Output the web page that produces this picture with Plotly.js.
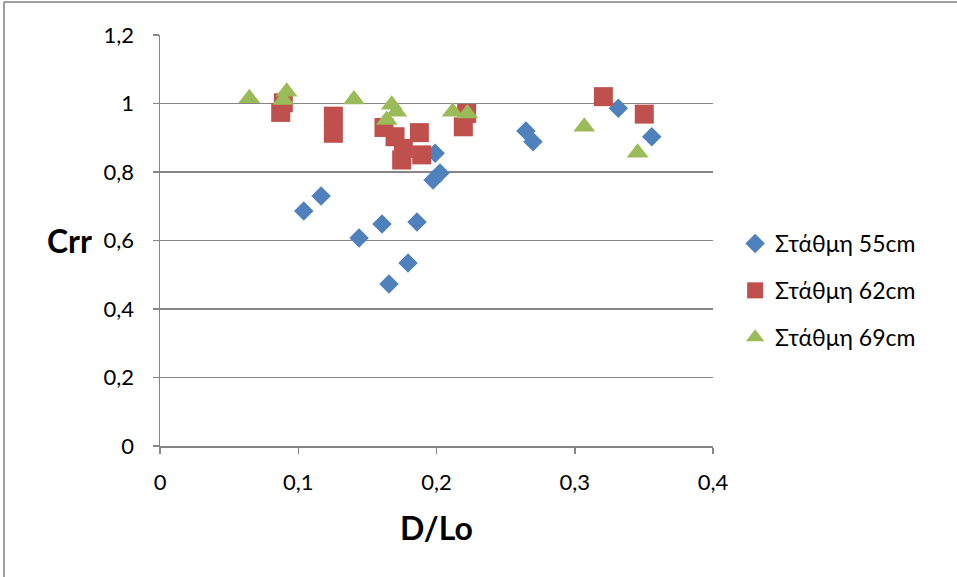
<!DOCTYPE html>
<html>
<head>
<meta charset="utf-8">
<script src="https://cdn.plot.ly/plotly-3.0.1.min.js"></script>
<style>html,body{margin:0;padding:0;background:#fff;}#chart{width:957px;height:577px;}</style>
</head>
<body>
<div id="chart"></div>
<script>
const seriesNames = ['Στάθμη 55cm', 'Στάθμη 62cm', 'Στάθμη 69cm'];

const x55 = [0.104, 0.1165, 0.144, 0.1606, 0.1656, 0.1794, 0.1859, 0.1975, 0.2025, 0.199, 0.2647, 0.2698, 0.3315, 0.3557];
const y55 = [0.686, 0.730, 0.607, 0.648, 0.473, 0.534, 0.654, 0.777, 0.797, 0.855, 0.920, 0.888, 0.986, 0.903];

const x62 = [0.0892, 0.0873, 0.1254, 0.1254, 0.162, 0.170, 0.1876, 0.176, 0.1748, 0.1893, 0.2194, 0.2218, 0.3207, 0.3503];
const y62 = [1.002, 0.974, 0.963, 0.913, 0.930, 0.903, 0.915, 0.869, 0.835, 0.850, 0.932, 0.971, 1.020, 0.969];

const x69 = [0.0646, 0.0916, 0.0892, 0.1403, 0.1676, 0.171, 0.164, 0.2117, 0.2223, 0.3069, 0.3455];
const y69 = [1.015, 1.034, 1.010, 1.012, 0.996, 0.976, 0.952, 0.976, 0.971, 0.932, 0.856];

const xTicks = [0, 0.1, 0.2, 0.3, 0.4];
const yTicks = [0, 0.2, 0.4, 0.6, 0.8, 1, 1.2];

const FONT = 'Lato, "Noto Sans", "DejaVu Sans", sans-serif';
const GRID = '#868686';

const traces = [
  {x: x55, y: y55, name: seriesNames[0], mode: 'markers', type: 'scatter', legendgroup: 'a',
   marker: {symbol: 'diamond', size: 15, color: '#4F81BD'}},
  {x: x62, y: y62, name: seriesNames[1], mode: 'markers', type: 'scatter', legendgroup: 'b',
   marker: {symbol: 'square', size: 19, color: '#C0504D'}},
  {x: x69, y: y69, name: seriesNames[2], mode: 'markers', type: 'scatter', legendgroup: 'c',
   marker: {symbol: 'triangle-up', size: 19, color: '#9BBB59'}}
];

const layout = {
  width: 957, height: 577,
  margin: {l: 160, r: 244, t: 35, b: 131},
  paper_bgcolor: '#fff', plot_bgcolor: '#fff',
  separators: ',.',
  font: {family: FONT, size: 22, color: '#000'},
  showlegend: true,
  legend: {x: 1.04, xanchor: 'left', y: 0.545, yanchor: 'top', traceorder: 'grouped',
           tracegroupgap: 14, font: {family: FONT, size: 23, color: '#000'}, bgcolor: 'rgba(0,0,0,0)'},
  xaxis: {range: [0, 0.4], tickvals: xTicks, showgrid: false, zeroline: false,
          showline: true, linecolor: GRID, linewidth: 1.5,
          ticks: 'outside', ticklen: 6, tickcolor: GRID, tickwidth: 1.5,
          ticklabelstandoff: 10, tickfont: {family: FONT, size: 22, color: '#000'}},
  yaxis: {range: [0, 1.2], tickvals: yTicks, showgrid: true, gridcolor: GRID, gridwidth: 1.5,
          zeroline: false, showline: true, linecolor: GRID, linewidth: 1.5,
          ticks: 'outside', ticklen: 6, tickcolor: GRID, tickwidth: 1.5,
          ticklabelstandoff: 14, tickfont: {family: FONT, size: 22, color: '#000'}},
  annotations: [
    {text: '<b>Crr</b>', xref: 'paper', yref: 'paper', x: -0.164, y: 0.5, xanchor: 'center', yanchor: 'middle',
     showarrow: false, font: {family: FONT, size: 32, color: '#000'}},
    {text: '<b>D/Lo</b>', xref: 'paper', yref: 'paper', x: 0.5, y: -0.198, xanchor: 'center', yanchor: 'middle',
     showarrow: false, font: {family: FONT, size: 32, color: '#000'}}
  ],
  shapes: [
    {type: 'line', xref: 'paper', yref: 'paper', x0: -0.2821, x1: 1.45, y0: 1.0803, y1: 1.0803,
     line: {color: '#808080', width: 1.5}},
    {type: 'line', xref: 'paper', yref: 'paper', x0: -0.2821, x1: -0.2821, y0: 1.0803, y1: -0.33,
     line: {color: '#808080', width: 1.5}}
  ]
};

Plotly.newPlot('chart', traces, layout, {displayModeBar: false, staticPlot: true});
</script>
</body>
</html>
